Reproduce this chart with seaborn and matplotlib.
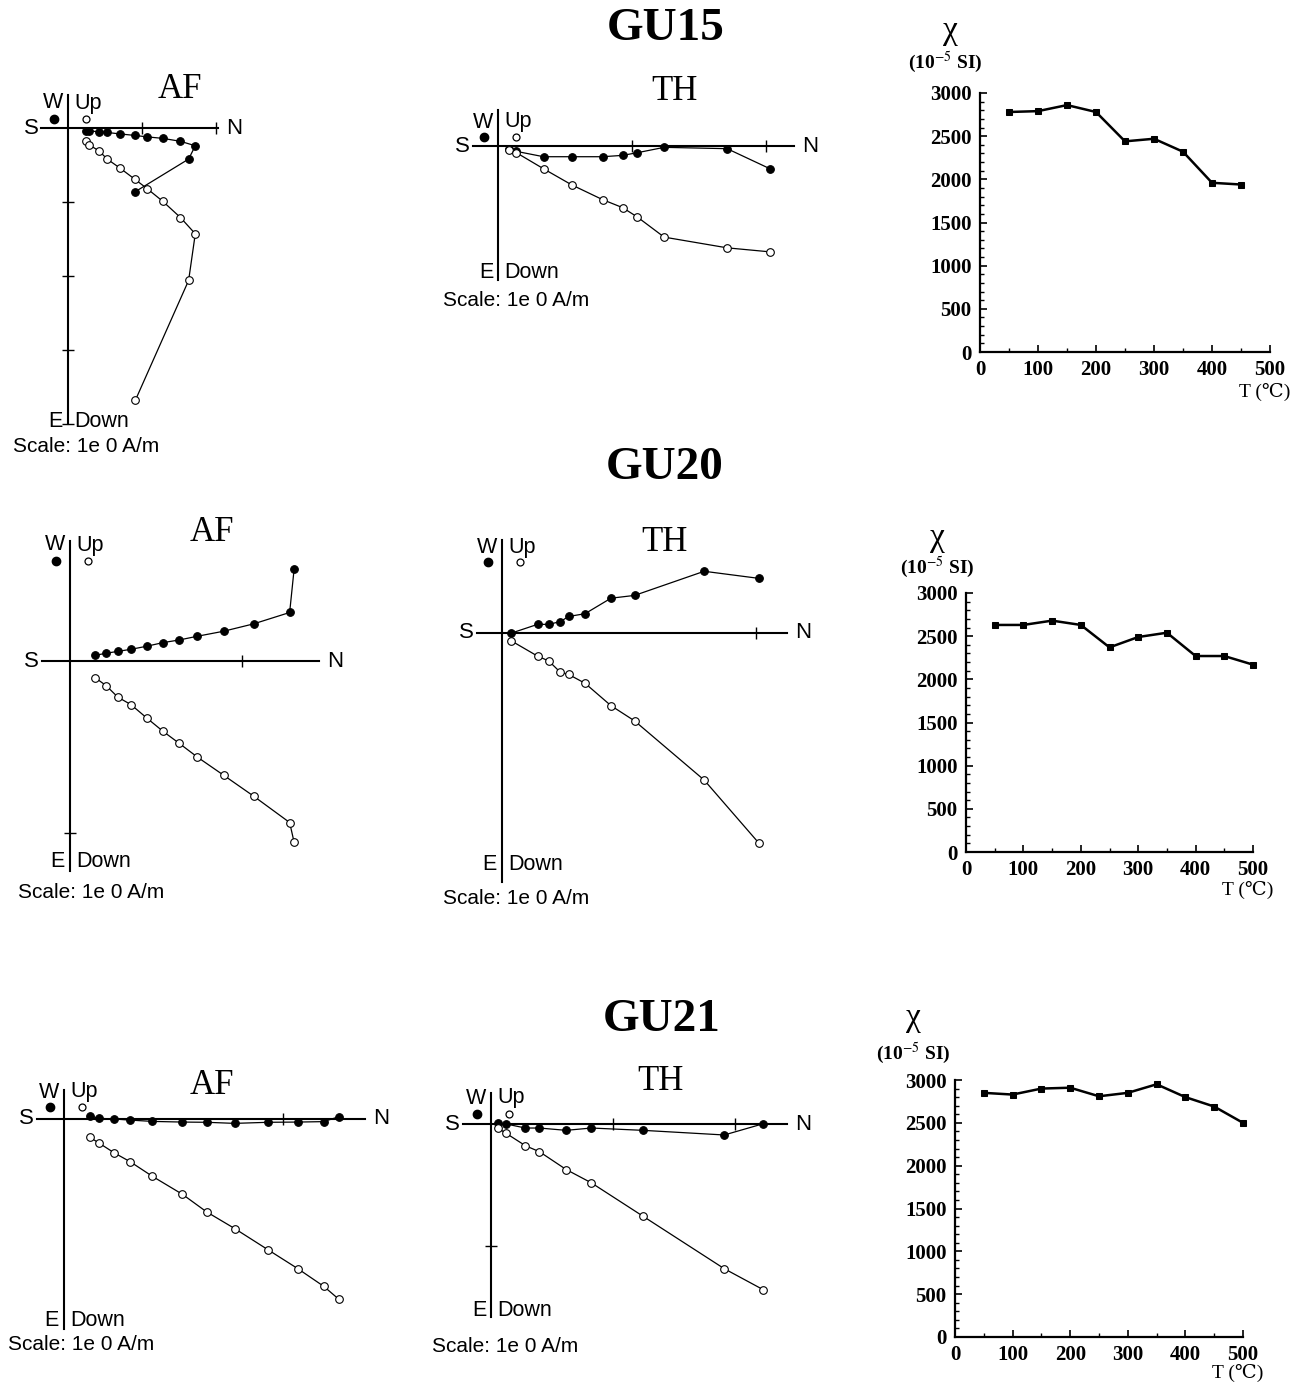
"""
Diagrammes de Zijderveld (AF / TH) et susceptibilité chi(T) pour GU15, GU20 et GU21.
"""

import matplotlib

matplotlib.use("Agg")

import matplotlib.pyplot as plt
import pandas as pd
import seaborn as sns


FIG_W, FIG_H = 1296, 1384
DPI = 100

# --- GU15 -------------------------------------------------------------
# composantes en unités d'échelle (N, W positif vers le haut, Up positif vers le haut)
GU15_AF_N = [0.24, 0.29, 0.42, 0.53, 0.70, 0.90, 1.07, 1.28, 1.52, 1.72, 1.63, 0.91]
GU15_AF_W = [-0.04, -0.04, -0.05, -0.06, -0.08, -0.10, -0.12, -0.14, -0.18, -0.24, -0.42, -0.86]
GU15_AF_UP = [-0.18, -0.23, -0.31, -0.42, -0.54, -0.69, -0.82, -0.99, -1.21, -1.43, -2.06, -3.68]

GU15_TH_N = [0.084, 0.137, 0.34, 0.55, 0.78, 0.93, 1.04, 1.24, 1.71, 2.03]
GU15_TH_W = [-0.02, -0.04, -0.08, -0.08, -0.08, -0.07, -0.05, -0.01, -0.02, -0.17]
GU15_TH_UP = [-0.03, -0.05, -0.17, -0.29, -0.40, -0.46, -0.53, -0.68, -0.76, -0.79]

GU15_TEMPS = [50, 100, 150, 200, 250, 300, 350, 400, 450]
GU15_CHI = [2780, 2790, 2860, 2780, 2440, 2470, 2320, 1960, 1940]

# --- GU20 -------------------------------------------------------------
GU20_AF_N = [0.146, 0.210, 0.278, 0.355, 0.447, 0.541, 0.634, 0.741, 0.893, 1.068, 1.277, 1.303]
GU20_AF_W = [0.033, 0.045, 0.056, 0.068, 0.086, 0.107, 0.122, 0.144, 0.173, 0.216, 0.282, 0.534]
GU20_AF_UP = [-0.097, -0.143, -0.210, -0.254, -0.332, -0.409, -0.478, -0.559, -0.664, -0.786, -0.939, -1.054]

GU20_TH_N = [0.035, 0.140, 0.184, 0.230, 0.262, 0.327, 0.429, 0.522, 0.796, 1.012]
GU20_TH_W = [-0.001, 0.034, 0.034, 0.045, 0.065, 0.076, 0.137, 0.148, 0.243, 0.215]
GU20_TH_UP = [-0.030, -0.091, -0.110, -0.155, -0.163, -0.198, -0.286, -0.346, -0.579, -0.828]

GU20_TEMPS = [50, 100, 150, 200, 250, 300, 350, 400, 450, 500]
GU20_CHI = [2630, 2630, 2680, 2630, 2370, 2490, 2540, 2270, 2270, 2170]

# --- GU21 -------------------------------------------------------------
GU21_AF_N = [0.119, 0.160, 0.230, 0.302, 0.404, 0.541, 0.651, 0.779, 0.933, 1.067, 1.186, 1.256]
GU21_AF_W = [0.014, 0.003, 0.0, -0.005, -0.011, -0.014, -0.015, -0.020, -0.015, -0.014, -0.012, 0.011]
GU21_AF_UP = [-0.084, -0.110, -0.155, -0.195, -0.262, -0.344, -0.424, -0.500, -0.598, -0.683, -0.764, -0.824]

GU21_TH_N = [0.060, 0.125, 0.282, 0.397, 0.616, 0.822, 1.246, 1.912, 2.231]
GU21_TH_W = [0.006, 0.0, -0.033, -0.033, -0.052, -0.033, -0.052, -0.090, 0.002]
GU21_TH_UP = [-0.036, -0.077, -0.178, -0.227, -0.373, -0.482, -0.756, -1.186, -1.358]

GU21_TEMPS = [50, 100, 150, 200, 250, 300, 350, 400, 450, 500]
GU21_CHI = [2850, 2830, 2900, 2910, 2810, 2850, 2950, 2800, 2690, 2500]

SAMPLE_NAMES = ["GU15", "GU20", "GU21"]
CHI_MAJOR = [0, 500, 1000, 1500, 2000, 2500, 3000]
T_MAJOR = [0, 100, 200, 300, 400, 500]

# mise en page en pixels : origine, taille d'une graduation, étendue des axes,
# hauteur des libellés W/Up, des symboles, de E/Down et position de "Scale"
ZIJ_LAYOUT = {
    "GU15_AF": dict(origin=(68, 128), unit=74, h_ext=(-0.36, 2.03), v_ext=(-4.0, 0.44),
                    xticks=[1, 2], yticks=[-1, -2, -3, -4], title="AF", title_xy=(180, 90),
                    wu_y=103, dot_y=119, ed_y=421, scale_xy=(13, 447)),
    "GU15_TH": dict(origin=(498, 146), unit=134, h_ext=(-0.19, 2.21), v_ext=(-1.0, 0.27),
                    xticks=[1, 2], yticks=[], title="TH", title_xy=(674, 91),
                    wu_y=122, dot_y=137, ed_y=272, scale_xy=(443, 300)),
    "GU20_AF": dict(origin=(70, 661), unit=172, h_ext=(-0.165, 1.446), v_ext=(-1.22, 0.70),
                    xticks=[1], yticks=[-1], title="AF", title_xy=(212, 532),
                    wu_y=545, dot_y=561, ed_y=862, scale_xy=(18, 893)),
    "GU20_TH": dict(origin=(502, 633), unit=254, h_ext=(-0.098, 1.122), v_ext=(-0.98, 0.365),
                    xticks=[1], yticks=[], title="TH", title_xy=(665, 543),
                    wu_y=547, dot_y=562, ed_y=865, scale_xy=(443, 898)),
    "GU21_AF": dict(origin=(64, 1119), unit=219, h_ext=(-0.125, 1.376), v_ext=(-0.957, 0.133),
                    xticks=[1], yticks=[], title="AF", title_xy=(212, 1085),
                    wu_y=1092, dot_y=1107, ed_y=1320, scale_xy=(8, 1345)),
    "GU21_TH": dict(origin=(491, 1124), unit=122, h_ext=(-0.228, 2.43), v_ext=(-1.583, 0.252),
                    xticks=[1, 2], yticks=[-1], title="TH", title_xy=(660, 1082),
                    wu_y=1098, dot_y=1114, ed_y=1310, scale_xy=(432, 1347)),
}

CHI_LAYOUT = {
    "GU15": dict(box=(980, 93, 1270, 352), chi_xy=(950, 31), unit_xy=(945, 62), t_off=-40),
    "GU20": dict(box=(966, 593, 1253, 852), chi_xy=(937, 538), unit_xy=(937, 567), t_off=-38),
    "GU21": dict(box=(955, 1080, 1243, 1337), chi_xy=(913, 1018), unit_xy=(913, 1053), t_off=-36),
}

TITLE_XY = {"GU15": (666, 29), "GU20": (665, 468), "GU21": (662, 1020)}

SERIF = ["Liberation Serif", "DejaVu Serif", "DejaVu Sans"]
SANS = ["Liberation Sans", "DejaVu Sans"]


def px_rect(left, top, right, bottom):
    """Convertit une boîte en pixels en rectangle figure (0-1)."""
    return [left / FIG_W, 1 - bottom / FIG_H, (right - left) / FIG_W, (bottom - top) / FIG_H]


def fig_xy(x, y):
    return x / FIG_W, 1 - y / FIG_H


def plot_zijderveld(fig, n, west, up, layout):
    """Trace un diagramme de Zijderveld (points pleins : horizontal, vides : vertical)."""
    ox, oy = layout["origin"]
    u = layout["unit"]
    h0, h1 = layout["h_ext"]
    v0, v1 = layout["v_ext"]

    ax = fig.add_axes(px_rect(ox + h0 * u, oy - v1 * u, ox + h1 * u, oy - v0 * u))
    ax.set_xlim(h0, h1)
    ax.set_ylim(v0, v1)
    ax.patch.set_visible(False)

    df = pd.DataFrame({"N": n, "W": west, "Up": up})
    line_kw = dict(
        sort=False, estimator=None, errorbar=None, color="black", linewidth=0.9,
        marker="o", markersize=5.5, markeredgecolor="black", markeredgewidth=0.8,
        clip_on=False, ax=ax,
    )
    sns.lineplot(data=df, x="N", y="W", markerfacecolor="black", **line_kw)
    sns.lineplot(data=df, x="N", y="Up", markerfacecolor="white", **line_kw)

    for side in ["top", "right"]:
        ax.spines[side].set_visible(False)
    ax.spines["left"].set_position(("data", 0))
    ax.spines["bottom"].set_position(("data", 0))
    for side in ["left", "bottom"]:
        ax.spines[side].set_linewidth(1.5)
        ax.spines[side].set_zorder(0)
    ax.set_xticks(layout["xticks"])
    ax.set_yticks(layout["yticks"])
    ax.tick_params(direction="inout", length=9, width=1.0,
                   labelbottom=False, labelleft=False)
    ax.set_xlabel("")
    ax.set_ylabel("")

    # symboles de légende W / Up
    fig.add_artist(plt.Line2D([(ox - 14) / FIG_W], [1 - layout["dot_y"] / FIG_H], marker="o",
                              color="black", markersize=6, linestyle=""))
    fig.add_artist(plt.Line2D([(ox + 18) / FIG_W], [1 - layout["dot_y"] / FIG_H], marker="o",
                              markerfacecolor="white", markeredgecolor="black",
                              markeredgewidth=0.9, markersize=5, linestyle=""))

    txt = dict(textcoords="offset pixels", family=SANS, va="center")
    ax.annotate("S", (h0, 0), xytext=(-3, 0), ha="right", fontsize=16, **txt)
    ax.annotate("N", (h1, 0), xytext=(8, 0), ha="left", fontsize=16, **txt)

    sans = dict(family=SANS, va="center", fontsize=15.5)
    fig.text(*fig_xy(ox - 5, layout["wu_y"]), "W", ha="right", **sans)
    fig.text(*fig_xy(ox + 6, layout["wu_y"]), "Up", ha="left", **sans)
    fig.text(*fig_xy(ox - 5, layout["ed_y"]), "E", ha="right", **sans)
    fig.text(*fig_xy(ox + 6, layout["ed_y"]), "Down", ha="left", **sans)
    fig.text(*fig_xy(*layout["scale_xy"]), "Scale: 1e 0 A/m", ha="left",
             family=SANS, va="center", fontsize=15)

    fig.text(*fig_xy(*layout["title_xy"]), layout["title"], family=SERIF,
             fontsize=25, ha="center", va="center")


def plot_chi(fig, temps, chi, layout):
    """Trace la susceptibilité en fonction de la température."""
    ax = fig.add_axes(px_rect(*layout["box"]))
    df = pd.DataFrame({"T": temps, "chi": chi})
    sns.lineplot(data=df, x="T", y="chi", color="black", linewidth=1.8, marker="s",
                 markersize=5, markeredgecolor="black", clip_on=False, ax=ax)
    ax.set_xlim(0, 500)
    ax.set_ylim(0, 3000)
    ax.set_xticks(T_MAJOR)
    ax.set_xticks(range(50, 500, 100), minor=True)
    ax.set_yticks(CHI_MAJOR)
    ax.set_yticks([v for v in range(0, 3001, 100) if v % 500], minor=True)
    sns.despine(ax=ax)
    for side in ["left", "bottom"]:
        ax.spines[side].set_linewidth(1.6)
    ax.tick_params(which="major", direction="in", length=5, width=1.2, labelsize=15, pad=6)
    ax.tick_params(which="minor", direction="in", length=3, width=1.0)
    for lab in ax.get_xticklabels() + ax.get_yticklabels():
        lab.set_family(SERIF)
        lab.set_fontweight("bold")
    ax.set_xlabel("")
    ax.set_ylabel("")

    fig.text(*fig_xy(*layout["chi_xy"]), "χ", family=SERIF, fontsize=24,
             ha="center", va="center")
    fig.text(*fig_xy(*layout["unit_xy"]), "(10$^{-5}$ SI)", family=SERIF, fontsize=14,
             fontweight="bold", ha="center", va="center")
    ax.annotate("T (℃)", (1, 0), xycoords="axes fraction", xytext=(20, layout["t_off"]),
                textcoords="offset pixels", family=SERIF, fontsize=14,
                ha="right", va="center")


def main() -> None:
    sns.set_style("ticks")
    plt.rcParams["font.family"] = SERIF
    plt.rcParams["mathtext.fontset"] = "stix"
    for key in ["text.color", "axes.edgecolor", "axes.labelcolor", "xtick.color", "ytick.color"]:
        plt.rcParams[key] = "black"

    fig = plt.figure(figsize=(FIG_W / DPI, FIG_H / DPI), dpi=DPI)

    zij_data = {
        "GU15_AF": (GU15_AF_N, GU15_AF_W, GU15_AF_UP),
        "GU15_TH": (GU15_TH_N, GU15_TH_W, GU15_TH_UP),
        "GU20_AF": (GU20_AF_N, GU20_AF_W, GU20_AF_UP),
        "GU20_TH": (GU20_TH_N, GU20_TH_W, GU20_TH_UP),
        "GU21_AF": (GU21_AF_N, GU21_AF_W, GU21_AF_UP),
        "GU21_TH": (GU21_TH_N, GU21_TH_W, GU21_TH_UP),
    }
    for key, (n, west, up) in zij_data.items():
        plot_zijderveld(fig, n, west, up, ZIJ_LAYOUT[key])

    chi_data = {
        "GU15": (GU15_TEMPS, GU15_CHI),
        "GU20": (GU20_TEMPS, GU20_CHI),
        "GU21": (GU21_TEMPS, GU21_CHI),
    }
    for name in SAMPLE_NAMES:
        plot_chi(fig, *chi_data[name], CHI_LAYOUT[name])
        fig.text(*fig_xy(*TITLE_XY[name]), name, family=SERIF, fontsize=34,
                 fontweight="bold", ha="center", va="center")

    fig.savefig("out.png", dpi=DPI)
    plt.close(fig)


if __name__ == "__main__":
    main()
